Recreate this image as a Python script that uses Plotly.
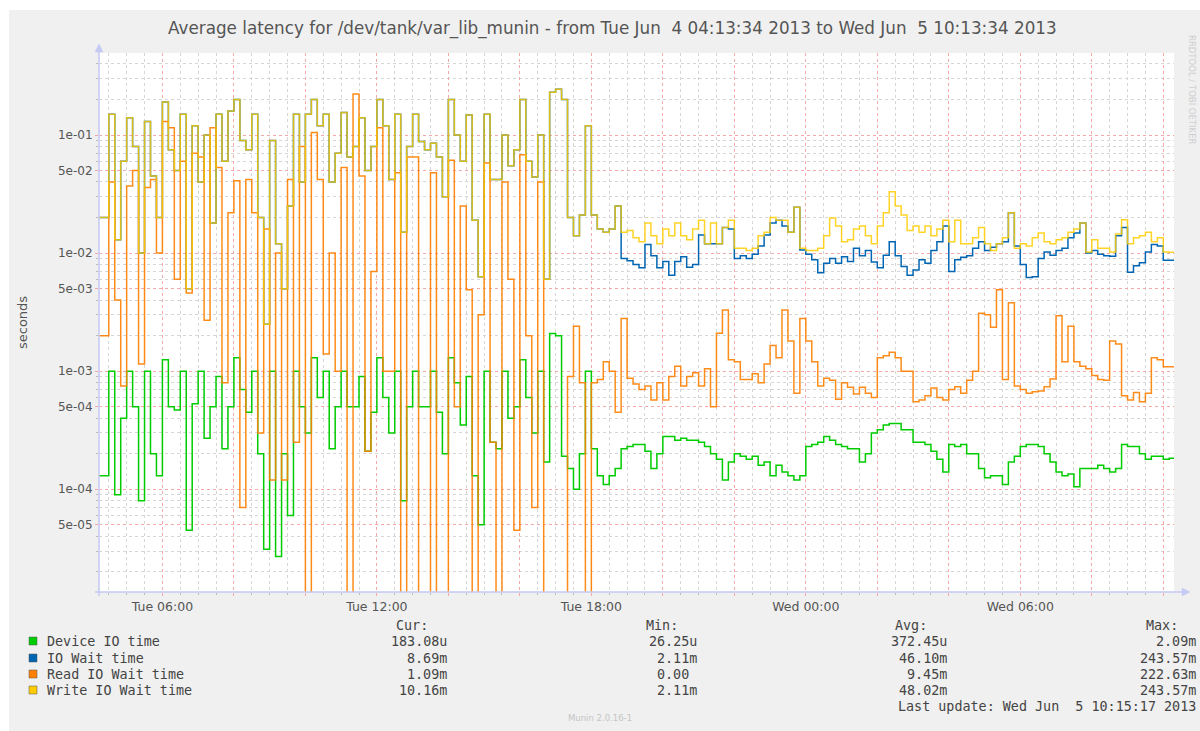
import pandas as pd
import plotly.graph_objects as go

# ---------------- data (values in milliseconds, 10-minute samples) ----------------
sample_start = "2013-06-04 04:20"
range_start = "2013-06-04 04:13:34"
range_end = "2013-06-05 10:18:00"

device_ms = [
    0.13, 1.0, 0.09, 0.4, 1.0, 0.5, 0.08, 1.0, 0.2, 0.13,
    1.25, 0.5, 0.47, 1.0, 0.045, 0.53, 1.0, 0.27, 0.5, 0.9,
    0.22, 0.5, 1.3, 0.7, 0.45, 1.0, 0.2, 0.031, 1.0, 0.027,
    0.2, 0.06, 1.0, 0.5, 0.3, 1.3, 0.6, 1.0, 0.22, 0.5,
    1.0, 0.5, 0.5, 0.9, 0.21, 0.45, 1.3, 0.6, 0.3, 1.0,
    0.08, 0.5, 1.0, 0.5, 0.5, 1.0, 0.45, 0.2, 1.3, 0.8,
    0.35, 0.9, 0.13, 0.05, 1.0, 0.25, 0.22, 1.0, 0.4, 0.5,
    1.25, 0.6, 0.3, 1.0, 0.17, 2.09, 2.0, 0.19, 0.15, 0.1,
    0.2, 1.0,
    0.22, 0.13, 0.11, 0.13, 0.15, 0.22, 0.23, 0.24, 0.24, 0.21,
    0.15, 0.2, 0.28, 0.28, 0.26, 0.27, 0.26, 0.26, 0.25, 0.23,
    0.2, 0.18, 0.12, 0.17, 0.2, 0.19, 0.18, 0.19, 0.16, 0.17,
    0.13, 0.16, 0.14, 0.13, 0.12, 0.13, 0.23, 0.24, 0.25, 0.28,
    0.26, 0.24, 0.23, 0.22, 0.22, 0.17, 0.2, 0.3, 0.32, 0.35,
    0.36, 0.36, 0.32, 0.32, 0.25, 0.25, 0.24, 0.21, 0.18, 0.14,
    0.24, 0.23, 0.24, 0.2, 0.2, 0.15, 0.125, 0.13, 0.13, 0.11,
    0.17, 0.19, 0.23, 0.24, 0.24, 0.23, 0.2, 0.17, 0.14, 0.13,
    0.135, 0.105, 0.15, 0.15, 0.15, 0.16, 0.15, 0.14, 0.15, 0.24,
    0.23, 0.23, 0.2, 0.18, 0.19, 0.19, 0.18, 0.183,
]

write_ms = [
    20, 150, 13, 60, 140, 80, 10, 130, 45, 20,
    190, 75, 50, 150, 5, 120, 40, 100, 18, 150,
    60, 160, 200, 90, 75, 150, 20, 2.5, 90, 12,
    5, 25, 150, 40, 150, 200, 120, 150, 40, 70,
    155, 65, 80, 140, 50, 80, 200, 120, 42, 150,
    15, 80, 150, 88, 75, 85, 65, 30, 200, 100,
    60, 148, 19, 6.3, 150, 42, 42, 100, 55, 75,
    200, 60, 44, 100, 6, 230, 243.57, 200, 20, 14,
    21, 120,
    21, 16, 15, 16, 25, 15, 15.5, 13.5, 12.5, 18,
    14, 12, 16, 14, 18, 14, 13, 16, 19, 12,
    18, 12, 16.5, 19, 11, 11, 10.5, 11, 14, 15,
    20, 19, 19, 15, 24.5, 11, 10.5, 10.5, 11, 14,
    19.8, 17, 12.5, 13, 16, 17, 14, 12, 17, 22,
    33, 25, 21, 15.5, 17, 15, 17, 14, 16, 19,
    12.5, 19, 12, 12, 13.5, 16.5, 12, 10.5, 12, 13.5,
    22, 11, 12, 11.5, 13.5, 14.8, 12.5, 12, 13, 13.5,
    15, 16, 18, 10.2, 13, 11, 11, 10.2, 14.5, 19.2,
    12, 13.5, 14, 15, 12.5, 13.5, 10.2, 10.16,
]

io_wait_ms = [
    20, 150, 13, 60, 140, 80, 10, 130, 45, 20,
    190, 75, 50, 150, 5, 120, 40, 100, 18, 150,
    60, 160, 200, 90, 75, 150, 20, 2.5, 90, 12,
    5, 25, 150, 40, 150, 200, 120, 150, 40, 70,
    155, 65, 80, 140, 50, 80, 200, 120, 42, 150,
    15, 80, 150, 88, 75, 85, 65, 30, 200, 100,
    60, 148, 19, 6.3, 150, 42, 42, 100, 55, 75,
    200, 60, 44, 100, 6, 230, 243.57, 200, 20, 14,
    21, 120,
    21, 16, 15, 16, 25, 9, 8.6, 8, 7.5, 11.8,
    9.5, 7.5, 8.5, 6.5, 8.5, 9.3, 7.6, 8, 14.2, 12,
    12, 12, 16.5, 16, 9, 9.5, 9, 9.8, 11.5, 14.2,
    18, 19, 17, 15, 24.5, 10.6, 9.8, 8.8, 6.8, 8.2,
    9, 8.2, 9.3, 8.5, 11, 9.5, 10.5, 8.4, 7.5, 9.6,
    12.5, 9.5, 7.7, 6.5, 7.2, 8.8, 8.2, 10.5, 12.5, 17,
    7, 8.8, 9.2, 9.5, 11, 12.5, 10.5, 11.2, 12, 12.5,
    22, 11.5, 8, 6.2, 6.3, 9, 10.2, 9.6, 10.5, 11,
    13.5, 14.8, 18, 10, 10.5, 9.8, 9.5, 9.4, 14, 16.5,
    6.9, 7.8, 8.3, 10.2, 11.8, 11.5, 8.7, 8.69,
]

read_ms = [
    2.0, 40, 4.0, 0.75, 37, 50, 1.15, 36, 42, 10,
    130, 115, 6, 60, 4.6, 70, 65, 2.7, 115, 53,
    0.8, 22, 41, 0.07, 42, 22, 0.3, 16, 0.12, 10,
    0.12, 42, 0.25, 80, 0, 105, 42, 1.4, 10, 1.0,
    53, 0, 222.63, 45, 0.21, 7, 115, 1.0, 1.0, 48,
    0, 65, 65, 0, 0, 48, 0, 0, 61, 0.5,
    25, 4.9, 0, 3, 58, 0.25, 0, 40, 6, 0.045,
    68, 2, 0.07, 40, 0, 0, 0, 0, 0.9, 2.4,
    0.8, 0,
    0.8, 0.85, 1.2, 1.0, 0.45, 2.8, 0.87, 0.78, 0.7, 0.75,
    0.57, 0.8, 0.57, 0.9, 1.1, 0.75, 0.9, 0.97, 0.75, 1.05,
    0.5, 2.1, 3.3, 1.25, 1.2, 0.85, 0.85, 0.95, 0.8, 1.15,
    1.65, 1.3, 3.3, 1.8, 0.65, 2.8, 1.8, 1.2, 0.75, 0.87,
    0.84, 0.58, 0.8, 0.73, 0.64, 0.73, 0.65, 0.6, 1.3, 1.35,
    1.45, 1.3, 1.0, 1.0, 0.55, 0.57, 0.62, 0.72, 0.6, 0.57,
    0.7, 0.74, 0.65, 0.84, 1.0, 3.1, 3.0, 2.35, 4.9, 0.85,
    3.8, 0.75, 0.7, 0.65, 0.67, 0.68, 0.74, 0.86, 2.95, 1.2,
    2.4, 1.2, 1.1, 1.05, 0.92, 0.85, 0.84, 1.8, 1.7, 0.62,
    0.57, 0.66, 0.55, 0.65, 1.3, 1.25, 1.09, 1.09,
]

series_names = ["Device IO time", "IO Wait time", "Read IO Wait time", "Write IO Wait time"]
series_colors = ["#00CC00", "#0066B3", "#FF8000", "#FFCC00"]
cur_text = ["183.08u", "8.69m", "1.09m", "10.16m"]
min_text = ["26.25u", "2.11m", "0.00\u00a0", "2.11m"]
avg_text = ["372.45u", "46.10m", "9.45m", "48.02m"]
max_text = ["2.09m", "243.57m", "222.63m", "243.57m"]

x_tick_times = pd.date_range("2013-06-04 06:00", "2013-06-05 10:00", freq="2h")
x_tick_labels = ["Tue 06:00", "", "", "Tue 12:00", "", "", "Tue 18:00", "", "",
                 "Wed 00:00", "", "", "Wed 06:00", "", ""]
y_tick_vals = [5e-5, 1e-4, 5e-4, 1e-3, 5e-3, 1e-2, 5e-2, 1e-1]
y_tick_labels = ["5e-05", "1e-04", "5e-04", "1e-03", "5e-03", "1e-02", "5e-02", "1e-01"]

title_text = ("Average latency for /dev/tank/var_lib_munin - from Tue Jun\u00a0\u00a04 04:13:34 2013"
              " to Wed Jun\u00a0\u00a05 10:13:34 2013")
last_update_text = "Last update: Wed Jun\u00a0\u00a05 10:15:17 2013"

# ---------------- geometry (pixels) ----------------
W, H = 1200, 731
PL, PR, PT, PB = 99, 1174, 53, 592
FLOOR = 1e-7  # zero values are drawn at (below) the axis floor, like rrdtool

times = list(pd.date_range(sample_start, periods=len(device_ms), freq="10min"))


def step_xy(vals):
    xs = [pd.Timestamp(range_start)] + times + [pd.Timestamp(range_end)]
    ys = [vals[0]] + list(vals) + [vals[-1]]
    ys = [v / 1000.0 if v > 0 else FLOOR for v in ys]
    return xs, ys


def px(x):
    return (x - PL) / (PR - PL)


def py(y):
    return (PB - y) / (PB - PT)


fig = go.Figure()
series_values = [device_ms, io_wait_ms, read_ms, write_ms]
opac = [1.0, 1.0, 0.9, 0.85]
for name, vals, col, op in zip(series_names, series_values, series_colors, opac):
    xs, ys = step_xy(vals)
    fig.add_trace(go.Scatter(x=xs, y=ys, mode="lines", name=name,
                             line=dict(color=col, width=1.5, shape="hv"),
                             opacity=op, showlegend=False, hoverinfo="skip"))

minor_vals = []
for k in range(-5, 0):
    for m in (2, 3, 4, 6, 7, 8, 9):
        minor_vals.append(m * 10.0 ** k)

GRID_MAJOR = "#f4a8a8"
GRID_MINOR = "#d6d6d6"
TXT = "#555555"

fig.update_layout(
    width=W, height=H,
    margin=dict(l=PL, r=W - PR, t=PT, b=H - PB, pad=0),
    paper_bgcolor="#F0F0F0", plot_bgcolor="#FFFFFF",
    font=dict(family="DejaVu Sans", size=12, color=TXT),
    showlegend=False,
    xaxis=dict(
        type="date",
        range=[range_start, range_end],
        tickmode="array", tickvals=list(x_tick_times), ticktext=x_tick_labels,
        showgrid=True, gridcolor=GRID_MAJOR, griddash="dot", gridwidth=1,
        ticks="outside", ticklen=3, tickcolor=GRID_MAJOR,
        tickfont=dict(family="DejaVu Sans", size=12.5, color=TXT),
        minor=dict(dtick=30 * 60 * 1000, tick0="2013-06-04 00:00", showgrid=True,
                   gridcolor=GRID_MINOR, griddash="dot", gridwidth=1,
                   ticks="outside", ticklen=2, tickcolor="#bbbbbb"),
        showline=False, zeroline=False, fixedrange=True,
    ),
    yaxis=dict(
        type="log",
        range=[-4.8697, -0.3057],
        tickmode="array", tickvals=y_tick_vals, ticktext=y_tick_labels,
        showgrid=True, gridcolor=GRID_MAJOR, griddash="dot", gridwidth=1,
        ticks="outside", ticklen=3, tickcolor=GRID_MAJOR,
        tickfont=dict(family="DejaVu Sans", size=12, color=TXT),
        minor=dict(tickmode="array", tickvals=minor_vals, showgrid=True,
                   gridcolor=GRID_MINOR, griddash="dot", gridwidth=1,
                   ticks="outside", ticklen=2, tickcolor="#bbbbbb"),
        showline=False, zeroline=False, fixedrange=True,
    ),
)

shapes = []
# white page border around the munin image
shapes.append(dict(type="rect", xref="paper", yref="paper", layer="below",
                   x0=px(-5), x1=px(9), y0=py(H + 5), y1=py(-5),
                   fillcolor="#FFFFFF", line=dict(width=0)))
shapes.append(dict(type="rect", xref="paper", yref="paper", layer="below",
                   x0=px(-5), x1=px(W + 5), y0=py(10), y1=py(-5),
                   fillcolor="#FFFFFF", line=dict(width=0)))
AX = "#c4caf2"
# axes with arrow heads
shapes.append(dict(type="line", xref="paper", yref="paper",
                   x0=px(99), x1=px(99), y0=py(596), y1=py(50),
                   line=dict(color=AX, width=1.5)))
shapes.append(dict(type="line", xref="paper", yref="paper",
                   x0=px(95), x1=px(1184), y0=py(592), y1=py(592),
                   line=dict(color=AX, width=1.5)))
shapes.append(dict(type="path", xref="paper", yref="paper",
                   path=f"M {px(95)} {py(52)} L {px(103)} {py(52)} L {px(99)} {py(44)} Z",
                   fillcolor=AX, line=dict(color=AX, width=0.5)))
shapes.append(dict(type="path", xref="paper", yref="paper",
                   path=f"M {px(1182)} {py(588)} L {px(1182)} {py(596)} L {px(1190)} {py(592)} Z",
                   fillcolor=AX, line=dict(color=AX, width=0.5)))

row_y = [641, 658, 674, 690]
for yy, col in zip(row_y, series_colors):
    shapes.append(dict(type="rect", xref="paper", yref="paper",
                       x0=px(29), x1=px(37), y0=py(yy + 4), y1=py(yy - 4),
                       fillcolor=col, line=dict(color="#555555", width=0.5)))
fig.update_layout(shapes=shapes)

MONO = "DejaVu Sans Mono"
LEG = "#444444"


def ann(text, x, y, size=13.4, family=MONO, color=LEG, xanchor="left", angle=0):
    fig.add_annotation(text=text, x=px(x), y=py(y), xref="paper", yref="paper",
                       xanchor=xanchor, yanchor="middle", showarrow=False,
                       textangle=angle, font=dict(family=family, size=size, color=color))


ann(title_text, 612, 29, size=16.8, family="DejaVu Sans", color=TXT, xanchor="center")
ann("seconds", 22, 323, size=13, family="DejaVu Sans", color=TXT, xanchor="center", angle=-90)
ann("RRDTOOL / TOBI OETIKER", 1192, 90, size=8.5, family="DejaVu Sans", color="#cfcfcf",
    xanchor="center", angle=90)

ann("Cur:", 430, 625, xanchor="right")
ann("Min:", 680, 625, xanchor="right")
ann("Avg:", 929, 625, xanchor="right")
ann("Max:", 1180, 625, xanchor="right")
for yy, name, c, mn, av, mx in zip(row_y, series_names, cur_text, min_text, avg_text, max_text):
    ann(name, 45, yy)
    ann(c, 449, yy, xanchor="right")
    ann(mn, 699, yy, xanchor="right")
    ann(av, 949, yy, xanchor="right")
    ann(mx, 1198, yy, xanchor="right")
ann(last_update_text, 1198, 706, xanchor="right")
ann("Munin 2.0.16-1", 600, 718, size=8.5, family="DejaVu Sans", color="#c4c4c4", xanchor="center")

fig.write_html("out.html", config={"displayModeBar": False, "staticPlot": True},
               post_script="document.body.style.margin='0';document.body.style.overflow='hidden';")
